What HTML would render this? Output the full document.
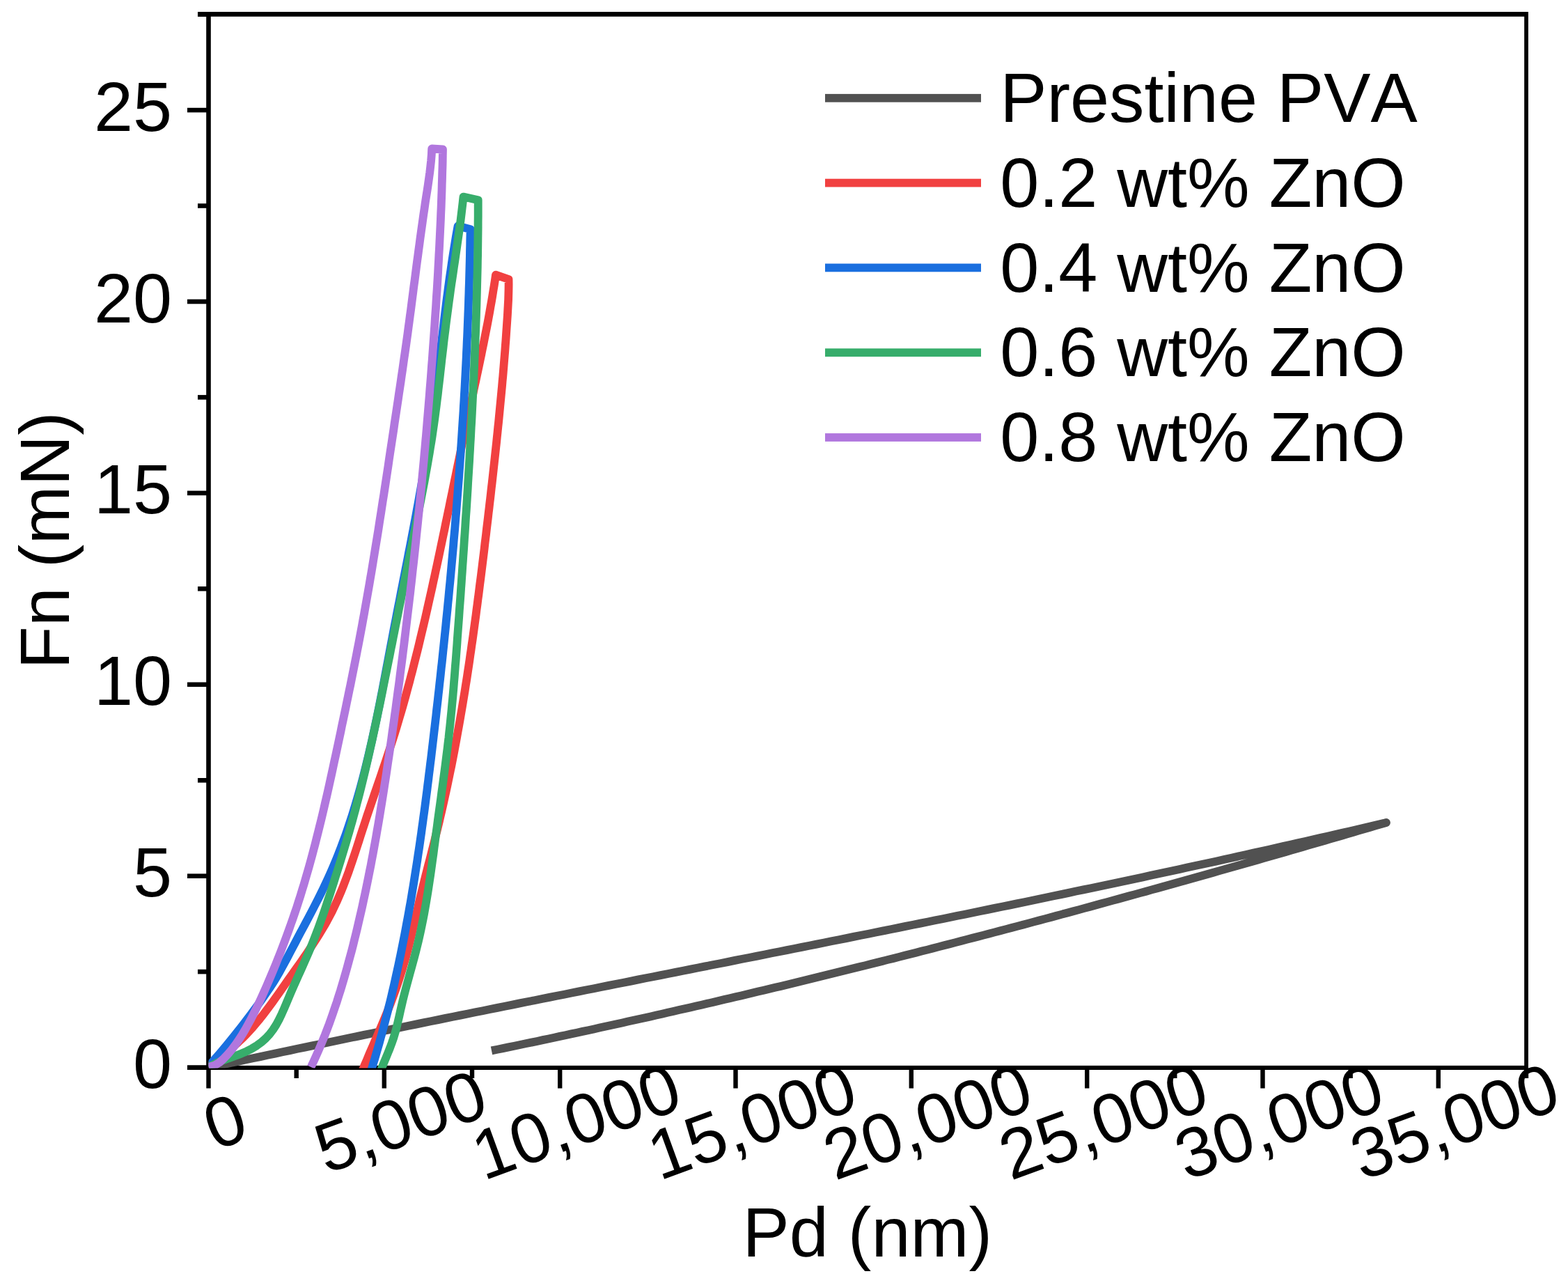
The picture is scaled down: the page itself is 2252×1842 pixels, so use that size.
<!DOCTYPE html>
<html><head><meta charset="utf-8"><title>Fn vs Pd</title>
<style>html,body{margin:0;padding:0;background:#fff;overflow:hidden}svg{display:block}</style>
</head><body>
<svg width="2252" height="1842" viewBox="0 0 2252 1842">
<rect x="0" y="0" width="2252" height="1842" fill="#fff"/>
<g fill="#000">
<rect x="296.2" y="17" width="6.6" height="1519"/>
<rect x="2189.2" y="17" width="5.8" height="1519"/>
<rect x="284" y="17" width="1911" height="6.8"/>
<rect x="269" y="1529.9" width="1926" height="6.1"/>
<rect x="269" y="1529.3" width="28" height="6.6"/>
<rect x="284" y="1391.8" width="13" height="6.6"/>
<rect x="269" y="1254.4" width="28" height="6.6"/>
<rect x="284" y="1117.0" width="13" height="6.6"/>
<rect x="269" y="979.5" width="28" height="6.6"/>
<rect x="284" y="842.0" width="13" height="6.6"/>
<rect x="269" y="704.6" width="28" height="6.6"/>
<rect x="284" y="567.1" width="13" height="6.6"/>
<rect x="269" y="429.7" width="28" height="6.6"/>
<rect x="284" y="292.2" width="13" height="6.6"/>
<rect x="269" y="154.8" width="28" height="6.6"/>
<rect x="284" y="17.4" width="13" height="6.6"/>
<rect x="296.3" y="1535" width="6.4" height="27.5"/>
<rect x="422.5" y="1535" width="6.4" height="13"/>
<rect x="548.6" y="1535" width="6.4" height="27.5"/>
<rect x="674.8" y="1535" width="6.4" height="13"/>
<rect x="801.0" y="1535" width="6.4" height="27.5"/>
<rect x="927.1" y="1535" width="6.4" height="13"/>
<rect x="1053.3" y="1535" width="6.4" height="27.5"/>
<rect x="1179.5" y="1535" width="6.4" height="13"/>
<rect x="1305.6" y="1535" width="6.4" height="27.5"/>
<rect x="1431.8" y="1535" width="6.4" height="13"/>
<rect x="1558.0" y="1535" width="6.4" height="27.5"/>
<rect x="1684.1" y="1535" width="6.4" height="13"/>
<rect x="1810.3" y="1535" width="6.4" height="27.5"/>
<rect x="1936.5" y="1535" width="6.4" height="13"/>
<rect x="2062.6" y="1535" width="6.4" height="27.5"/>
<rect x="2188.8" y="1535" width="6.4" height="13"/>
</g>
<clipPath id="pc"><rect x="299.5" y="20.4" width="1892.5" height="1513.0"/></clipPath>
<g clip-path="url(#pc)" fill="none" stroke-width="11.8" stroke-linejoin="round" stroke-linecap="butt">
<path d="M299.5,1533.0L310.1,1530.7L320.7,1528.4L331.4,1526.1L342.0,1523.9L352.6,1521.6L363.3,1519.3L373.9,1517.1L384.5,1514.8L395.1,1512.6L405.8,1510.3L416.4,1508.1L427.0,1505.8L437.7,1503.6L448.3,1501.4L459.0,1499.2L469.6,1496.9L480.2,1494.7L490.9,1492.5L501.5,1490.3L512.2,1488.1L522.8,1485.9L533.4,1483.7L544.1,1481.5L554.7,1479.3L565.4,1477.1L576.0,1475.0L586.7,1472.8L597.3,1470.6L608.0,1468.4L618.6,1466.3L629.3,1464.1L639.9,1461.9L650.6,1459.8L661.2,1457.6L671.9,1455.5L682.5,1453.3L693.2,1451.2L703.8,1449.0L714.5,1446.9L725.1,1444.7L735.8,1442.6L746.4,1440.4L757.1,1438.3L767.7,1436.2L778.4,1434.0L789.1,1431.9L799.7,1429.8L810.4,1427.7L821.0,1425.5L831.7,1423.4L842.3,1421.3L853.0,1419.2L863.7,1417.0L874.3,1414.9L885.0,1412.8L895.6,1410.7L906.3,1408.6L916.9,1406.4L927.6,1404.3L938.3,1402.2L948.9,1400.1L959.6,1398.0L970.2,1395.9L980.9,1393.7L991.6,1391.6L1002.2,1389.5L1012.9,1387.4L1023.5,1385.3L1034.2,1383.2L1044.9,1381.1L1055.5,1378.9L1066.2,1376.8L1076.8,1374.7L1087.5,1372.6L1098.2,1370.5L1108.8,1368.3L1119.5,1366.2L1130.1,1364.1L1140.8,1362.0L1151.4,1359.9L1162.1,1357.7L1172.8,1355.6L1183.4,1353.5L1194.1,1351.3L1204.7,1349.2L1215.4,1347.1L1226.0,1344.9L1236.7,1342.8L1247.3,1340.7L1258.0,1338.5L1268.6,1336.4L1279.3,1334.2L1289.9,1332.1L1300.6,1329.9L1311.3,1327.8L1321.9,1325.6L1332.6,1323.5L1343.2,1321.3L1353.8,1319.2L1364.5,1317.0L1375.1,1314.8L1385.8,1312.7L1396.4,1310.5L1407.1,1308.3L1417.7,1306.1L1428.4,1303.9L1439.0,1301.7L1449.7,1299.6L1460.3,1297.4L1470.9,1295.2L1481.6,1293.0L1492.2,1290.7L1502.9,1288.5L1513.5,1286.3L1524.1,1284.1L1534.8,1281.9L1545.4,1279.6L1556.0,1277.4L1566.7,1275.2L1577.3,1272.9L1587.9,1270.7L1598.6,1268.4L1609.2,1266.2L1619.8,1263.9L1630.4,1261.7L1641.1,1259.4L1651.7,1257.1L1662.3,1254.8L1672.9,1252.5L1683.6,1250.2L1694.2,1247.9L1704.8,1245.6L1715.4,1243.3L1726.0,1241.0L1736.7,1238.7L1747.3,1236.4L1757.9,1234.0L1768.5,1231.7L1779.1,1229.3L1789.7,1227.0L1800.3,1224.6L1810.9,1222.3L1821.5,1219.9L1832.1,1217.5L1842.7,1215.1L1853.3,1212.7L1863.9,1210.3L1874.5,1207.9L1885.1,1205.5L1895.7,1203.1L1906.3,1200.7L1916.9,1198.2L1927.5,1195.8L1938.1,1193.4L1948.7,1190.9L1959.3,1188.4L1969.8,1186.0L1980.4,1183.5L1991.0,1181.0L1991.0,1181.0L1983.0,1183.4L1975.0,1185.7L1967.0,1188.1L1959.0,1190.4L1951.0,1192.7L1943.0,1195.1L1935.0,1197.4L1927.0,1199.8L1919.0,1202.1L1910.9,1204.4L1902.9,1206.8L1894.9,1209.1L1886.9,1211.4L1878.9,1213.7L1870.9,1216.0L1862.9,1218.4L1854.9,1220.7L1846.8,1223.0L1838.8,1225.3L1830.8,1227.6L1822.8,1229.9L1814.8,1232.2L1806.7,1234.5L1798.7,1236.8L1790.7,1239.0L1782.7,1241.3L1774.6,1243.6L1766.6,1245.9L1758.6,1248.2L1750.6,1250.4L1742.5,1252.7L1734.5,1255.0L1726.5,1257.2L1718.4,1259.5L1710.4,1261.7L1702.4,1264.0L1694.3,1266.2L1686.3,1268.5L1678.3,1270.7L1670.2,1273.0L1662.2,1275.2L1654.2,1277.4L1646.1,1279.7L1638.1,1281.9L1630.0,1284.1L1622.0,1286.3L1613.9,1288.5L1605.9,1290.7L1597.9,1292.9L1589.8,1295.1L1581.8,1297.3L1573.7,1299.5L1565.7,1301.7L1557.6,1303.9L1549.6,1306.1L1541.5,1308.3L1533.4,1310.5L1525.4,1312.6L1517.3,1314.8L1509.3,1317.0L1501.2,1319.1L1493.2,1321.3L1485.1,1323.4L1477.0,1325.6L1469.0,1327.7L1460.9,1329.9L1452.8,1332.0L1444.8,1334.1L1436.7,1336.3L1428.6,1338.4L1420.6,1340.5L1412.5,1342.6L1404.4,1344.7L1396.4,1346.8L1388.3,1348.9L1380.2,1351.0L1372.1,1353.1L1364.1,1355.2L1356.0,1357.3L1347.9,1359.4L1339.8,1361.5L1331.8,1363.6L1323.7,1365.6L1315.6,1367.7L1307.5,1369.7L1299.4,1371.8L1291.3,1373.9L1283.2,1375.9L1275.2,1377.9L1267.1,1380.0L1259.0,1382.0L1250.9,1384.0L1242.8,1386.1L1234.7,1388.1L1226.6,1390.1L1218.5,1392.1L1210.4,1394.1L1202.3,1396.1L1194.2,1398.1L1186.1,1400.1L1178.0,1402.1L1169.9,1404.1L1161.8,1406.1L1153.7,1408.0L1145.6,1410.0L1137.5,1412.0L1129.4,1413.9L1121.3,1415.9L1113.1,1417.8L1105.0,1419.8L1096.9,1421.7L1088.8,1423.6L1080.7,1425.6L1072.6,1427.5L1064.5,1429.4L1056.3,1431.3L1048.2,1433.2L1040.1,1435.1L1032.0,1437.0L1023.8,1438.9L1015.7,1440.8L1007.6,1442.7L999.5,1444.5L991.3,1446.4L983.2,1448.3L975.1,1450.1L966.9,1452.0L958.8,1453.8L950.7,1455.7L942.5,1457.5L934.4,1459.4L926.3,1461.2L918.1,1463.0L910.0,1464.8L901.8,1466.6L893.7,1468.4L885.5,1470.2L877.4,1472.0L869.2,1473.8L861.1,1475.6L852.9,1477.4L844.8,1479.2L836.6,1480.9L828.5,1482.7L820.3,1484.4L812.2,1486.2L804.0,1487.9L795.8,1489.7L787.7,1491.4L779.5,1493.1L771.4,1494.9L763.2,1496.6L755.0,1498.3L746.9,1500.0L738.7,1501.7L730.5,1503.4L722.3,1505.1L714.2,1506.7L706.0,1508.4" stroke="#515151"/>
<path d="M299.5,1531.0L305.8,1526.4L312.0,1521.7L318.1,1517.0L324.1,1512.1L330.1,1507.1L335.9,1502.0L341.7,1496.8L347.3,1491.5L352.7,1486.0L358.0,1480.4L363.2,1474.7L368.2,1468.8L373.1,1462.9L377.9,1456.8L382.6,1450.7L387.2,1444.5L391.8,1438.2L396.3,1431.9L400.8,1425.6L405.3,1419.2L409.7,1412.9L414.2,1406.5L418.7,1400.1L423.2,1393.8L427.7,1387.4L432.2,1381.1L436.6,1374.7L441.0,1368.3L445.3,1361.8L449.6,1355.3L453.8,1348.8L457.9,1342.3L461.9,1335.7L465.9,1329.0L469.7,1322.3L473.3,1315.5L476.9,1308.7L480.2,1301.8L483.5,1294.8L486.6,1287.7L489.6,1280.6L492.5,1273.5L495.3,1266.2L498.0,1259.0L500.7,1251.7L503.2,1244.4L505.7,1237.0L508.2,1229.6L510.7,1222.2L513.1,1214.8L515.5,1207.4L517.8,1200.0L520.2,1192.6L522.7,1185.2L525.1,1177.8L527.5,1170.4L530.0,1163.1L532.5,1155.7L535.0,1148.4L537.5,1141.0L540.0,1133.7L542.5,1126.4L545.1,1119.1L547.6,1111.7L550.0,1104.4L552.5,1097.1L555.0,1089.7L557.4,1082.4L559.8,1075.0L562.2,1067.7L564.6,1060.3L566.9,1052.9L569.2,1045.5L571.4,1038.1L573.6,1030.6L575.8,1023.2L578.0,1015.8L580.1,1008.3L582.2,1000.8L584.2,993.4L586.2,985.9L588.3,978.4L590.2,970.9L592.2,963.4L594.1,955.9L596.0,948.3L597.9,940.8L599.8,933.3L601.6,925.8L603.4,918.2L605.2,910.7L607.0,903.1L608.8,895.6L610.6,888.0L612.3,880.5L614.0,872.9L615.7,865.3L617.4,857.8L619.1,850.2L620.8,842.6L622.4,835.1L624.1,827.5L625.7,819.9L627.4,812.3L629.0,804.8L630.6,797.2L632.2,789.6L633.8,782.0L635.4,774.4L637.0,766.8L638.6,759.3L640.1,751.7L641.7,744.1L643.3,736.5L644.9,728.9L646.4,721.3L648.0,713.7L649.6,706.1L651.1,698.6L652.7,691.0L654.3,683.4L655.8,675.8L657.4,668.2L659.0,660.6L660.6,653.0L662.1,645.4L663.7,637.8L665.3,630.3L666.9,622.7L668.5,615.1L670.2,607.5L671.8,599.9L673.4,592.4L675.1,584.8L676.7,577.2L678.4,569.6L680.0,562.1L681.6,554.5L683.3,546.9L684.9,539.3L686.5,531.7L688.1,524.2L689.7,516.6L691.3,509.0L692.8,501.4L694.4,493.8L695.9,486.2L697.4,478.6L698.9,471.0L700.4,463.4L701.8,455.8L703.2,448.1L704.5,440.5L705.9,432.9L707.2,425.2L708.4,417.6L709.7,409.9L710.9,402.3L712.0,394.6L730.5,401.0L730.6,408.3L730.5,415.6L730.3,423.0L730.1,430.3L729.7,437.6L729.3,444.9L728.9,452.3L728.4,459.6L727.9,466.9L727.4,474.2L726.9,481.5L726.4,488.9L725.8,496.2L725.3,503.5L724.7,510.8L724.1,518.1L723.5,525.4L722.9,532.7L722.3,540.0L721.6,547.3L721.0,554.6L720.3,561.9L719.6,569.2L718.9,576.5L718.2,583.8L717.5,591.1L716.8,598.4L716.1,605.7L715.3,613.0L714.6,620.3L713.8,627.6L713.1,634.9L712.3,642.2L711.5,649.5L710.7,656.8L709.9,664.1L709.1,671.3L708.3,678.6L707.5,685.9L706.7,693.2L705.8,700.5L705.0,707.8L704.2,715.1L703.3,722.4L702.5,729.6L701.6,736.9L700.8,744.2L699.9,751.5L699.0,758.8L698.2,766.1L697.3,773.4L696.4,780.6L695.6,787.9L694.7,795.2L693.8,802.5L692.9,809.8L692.0,817.1L691.1,824.4L690.2,831.6L689.2,838.9L688.3,846.2L687.4,853.5L686.4,860.8L685.5,868.0L684.5,875.3L683.6,882.6L682.6,889.9L681.6,897.1L680.6,904.4L679.6,911.7L678.6,918.9L677.5,926.2L676.5,933.5L675.4,940.7L674.4,948.0L673.3,955.3L672.2,962.5L671.1,969.8L670.0,977.0L668.8,984.3L667.7,991.5L666.5,998.7L665.3,1006.0L664.1,1013.2L662.9,1020.4L661.6,1027.7L660.4,1034.9L659.1,1042.1L657.8,1049.3L656.5,1056.5L655.2,1063.8L653.8,1071.0L652.5,1078.2L651.1,1085.4L649.7,1092.6L648.3,1099.8L646.8,1106.9L645.3,1114.1L643.8,1121.3L642.3,1128.5L640.8,1135.6L639.2,1142.8L637.6,1150.0L636.0,1157.1L634.4,1164.3L632.7,1171.4L631.1,1178.5L629.3,1185.7L627.6,1192.8L625.8,1199.9L624.1,1207.0L622.3,1214.2L620.5,1221.3L618.7,1228.4L616.9,1235.5L615.0,1242.6L613.2,1249.7L611.4,1256.8L609.6,1263.9L607.8,1271.1L606.1,1278.2L604.3,1285.3L602.6,1292.4L600.9,1299.6L599.3,1306.7L597.6,1313.9L596.0,1321.0L594.4,1328.2L592.7,1335.3L591.1,1342.5L589.3,1349.6L587.6,1356.7L585.7,1363.8L583.8,1370.9L581.9,1377.9L579.8,1384.9L577.7,1392.0L575.5,1399.0L573.3,1405.9L571.0,1412.9L568.6,1419.8L566.1,1426.7L563.6,1433.6L561.0,1440.5L558.3,1447.3L555.6,1454.1L552.8,1460.9L550.0,1467.7L547.1,1474.5L544.3,1481.2L541.4,1488.0L538.4,1494.7L535.5,1501.5L532.6,1508.2L529.7,1514.9L526.9,1521.7L524.0,1528.4L521.2,1535.2L518.5,1542.0" stroke="#F14040"/>
<path d="M299.5,1531.0L304.8,1525.0L310.0,1518.9L315.3,1512.8L320.4,1506.7L325.6,1500.5L330.7,1494.3L335.8,1488.0L340.8,1481.7L345.8,1475.4L350.7,1469.0L355.6,1462.6L360.4,1456.2L365.2,1449.7L370.0,1443.2L374.7,1436.7L379.3,1430.1L383.9,1423.5L388.4,1416.9L392.7,1410.2L396.9,1403.4L400.9,1396.5L404.8,1389.5L408.6,1382.5L412.4,1375.4L416.1,1368.3L419.8,1361.2L423.6,1354.1L427.3,1347.0L431.1,1339.8L434.9,1332.7L438.7,1325.6L442.5,1318.4L446.3,1311.3L450.0,1304.1L453.7,1296.9L457.4,1289.7L461.0,1282.5L464.5,1275.2L468.0,1267.9L471.4,1260.6L474.7,1253.3L477.9,1245.9L481.0,1238.5L484.1,1231.1L487.0,1223.6L489.9,1216.2L492.7,1208.6L495.5,1201.1L498.1,1193.6L500.7,1186.0L503.2,1178.4L505.7,1170.8L508.1,1163.1L510.4,1155.5L512.7,1147.8L514.9,1140.1L517.1,1132.3L519.2,1124.6L521.2,1116.9L523.2,1109.1L525.2,1101.3L527.1,1093.5L529.0,1085.7L530.8,1077.8L532.6,1070.0L534.4,1062.2L536.1,1054.3L537.8,1046.4L539.5,1038.5L541.2,1030.7L542.8,1022.8L544.4,1014.9L546.0,1006.9L547.5,999.0L549.1,991.1L550.6,983.2L552.1,975.3L553.6,967.3L555.1,959.4L556.6,951.5L558.1,943.5L559.6,935.6L561.1,927.7L562.6,919.8L564.1,911.8L565.6,903.9L567.1,896.0L568.7,888.1L570.2,880.2L571.7,872.3L573.3,864.4L574.8,856.5L576.3,848.6L577.9,840.7L579.4,832.8L581.0,824.9L582.5,817.0L584.1,809.1L585.6,801.3L587.1,793.4L588.7,785.5L590.2,777.6L591.7,769.7L593.2,761.8L594.7,753.9L596.2,746.0L597.7,738.2L599.1,730.3L600.6,722.4L602.0,714.5L603.4,706.6L604.8,698.7L606.2,690.8L607.6,682.9L608.9,674.9L610.3,667.0L611.6,659.1L612.8,651.2L614.1,643.3L615.3,635.3L616.6,627.4L617.7,619.4L618.9,611.5L620.0,603.5L621.2,595.6L622.2,587.6L623.3,579.6L624.3,571.7L625.4,563.7L626.4,555.7L627.4,547.7L628.3,539.7L629.3,531.7L630.3,523.7L631.2,515.7L632.2,507.7L633.1,499.7L634.1,491.7L635.0,483.8L636.0,475.8L637.0,467.8L637.9,459.8L638.9,451.8L639.9,443.8L640.9,435.8L641.9,427.8L643.0,419.8L644.0,411.9L645.1,403.9L646.2,395.9L647.4,388.0L648.5,380.0L649.7,372.0L650.9,364.1L652.2,356.2L653.5,348.2L654.8,340.3L656.2,332.4L657.6,324.5L675.6,329.1L675.5,336.8L675.3,344.5L675.2,352.2L675.0,359.9L674.9,367.6L674.7,375.3L674.5,383.0L674.3,390.7L674.1,398.4L673.9,406.1L673.6,413.8L673.4,421.5L673.1,429.2L672.9,436.9L672.6,444.6L672.3,452.3L672.0,460.0L671.7,467.7L671.4,475.4L671.1,483.1L670.7,490.7L670.4,498.4L670.0,506.1L669.7,513.8L669.3,521.5L668.9,529.2L668.5,536.9L668.1,544.6L667.7,552.3L667.3,559.9L666.8,567.6L666.4,575.3L665.9,583.0L665.5,590.7L665.0,598.4L664.5,606.0L664.0,613.7L663.5,621.4L663.0,629.1L662.5,636.8L662.0,644.5L661.5,652.1L660.9,659.8L660.4,667.5L659.8,675.2L659.3,682.9L658.7,690.5L658.1,698.2L657.5,705.9L656.9,713.6L656.3,721.2L655.7,728.9L655.1,736.6L654.4,744.3L653.8,751.9L653.2,759.6L652.5,767.3L651.8,774.9L651.2,782.6L650.5,790.3L649.8,798.0L649.1,805.6L648.4,813.3L647.7,821.0L647.0,828.6L646.3,836.3L645.5,844.0L644.8,851.6L644.1,859.3L643.3,867.0L642.6,874.6L641.8,882.3L641.0,890.0L640.3,897.6L639.5,905.3L638.7,913.0L637.9,920.6L637.1,928.3L636.3,935.9L635.5,943.6L634.7,951.3L633.8,958.9L633.0,966.6L632.2,974.2L631.3,981.9L630.5,989.6L629.6,997.2L628.8,1004.9L627.9,1012.5L627.0,1020.2L626.2,1027.8L625.3,1035.5L624.4,1043.2L623.5,1050.8L622.6,1058.5L621.7,1066.1L620.8,1073.8L619.9,1081.4L619.0,1089.1L618.0,1096.7L617.1,1104.4L616.1,1112.0L615.2,1119.7L614.2,1127.3L613.3,1135.0L612.3,1142.6L611.3,1150.3L610.3,1157.9L609.3,1165.5L608.2,1173.2L607.2,1180.8L606.1,1188.4L605.1,1196.1L604.0,1203.7L602.9,1211.3L601.8,1218.9L600.6,1226.5L599.5,1234.2L598.3,1241.8L597.1,1249.4L595.9,1257.0L594.7,1264.6L593.5,1272.2L592.2,1279.8L591.0,1287.3L589.7,1294.9L588.3,1302.5L587.0,1310.1L585.6,1317.7L584.2,1325.2L582.8,1332.8L581.4,1340.3L579.9,1347.9L578.4,1355.4L576.9,1363.0L575.4,1370.5L573.8,1378.0L572.2,1385.6L570.6,1393.1L568.9,1400.6L567.3,1408.1L565.6,1415.6L563.8,1423.1L562.1,1430.6L560.3,1438.1L558.4,1445.5L556.6,1453.0L554.7,1460.4L552.7,1467.9L550.8,1475.3L548.8,1482.8L546.7,1490.2L544.7,1497.6L542.6,1505.0L540.4,1512.5L538.3,1519.9L536.0,1527.2L533.8,1534.6L531.5,1542.0" stroke="#1A6FDF"/>
<path d="M299.5,1532.0L306.8,1528.1L314.4,1524.7L322.4,1521.6L330.4,1518.7L338.5,1515.8L346.5,1512.7L354.3,1509.3L361.8,1505.4L368.9,1501.1L375.5,1496.2L381.7,1490.8L387.3,1484.8L392.2,1478.3L396.7,1471.3L400.7,1463.9L404.4,1456.2L407.9,1448.4L411.3,1440.4L414.6,1432.4L417.9,1424.6L421.3,1416.8L424.8,1409.0L428.2,1401.3L431.7,1393.7L435.1,1386.0L438.5,1378.4L441.8,1370.8L445.1,1363.1L448.3,1355.3L451.4,1347.5L454.4,1339.7L457.4,1331.8L460.3,1323.8L463.1,1315.9L465.9,1307.9L468.6,1299.9L471.2,1291.8L473.9,1283.8L476.5,1275.7L479.1,1267.6L481.6,1259.6L484.2,1251.5L486.7,1243.4L489.2,1235.4L491.7,1227.3L494.1,1219.2L496.5,1211.2L498.9,1203.1L501.3,1195.0L503.6,1186.9L505.9,1178.8L508.1,1170.7L510.3,1162.6L512.4,1154.4L514.6,1146.3L516.7,1138.1L518.7,1130.0L520.7,1121.8L522.7,1113.6L524.7,1105.4L526.6,1097.2L528.5,1089.0L530.4,1080.7L532.2,1072.5L534.1,1064.3L535.9,1056.0L537.7,1047.8L539.5,1039.5L541.2,1031.3L542.9,1023.0L544.7,1014.7L546.4,1006.5L548.1,998.2L549.8,989.9L551.4,981.6L553.1,973.3L554.8,965.1L556.4,956.8L558.1,948.5L559.8,940.2L561.4,931.9L563.1,923.7L564.7,915.4L566.4,907.1L568.0,898.8L569.7,890.6L571.4,882.3L573.0,874.0L574.7,865.8L576.4,857.5L578.1,849.3L579.7,841.0L581.4,832.7L583.1,824.5L584.8,816.2L586.4,808.0L588.1,799.7L589.8,791.4L591.5,783.2L593.1,774.9L594.8,766.6L596.5,758.4L598.1,750.1L599.8,741.8L601.4,733.5L603.0,725.2L604.6,717.0L606.2,708.7L607.8,700.4L609.4,692.1L610.9,683.8L612.4,675.5L613.9,667.2L615.3,658.9L616.8,650.5L618.1,642.2L619.5,633.9L620.8,625.5L622.0,617.2L623.2,608.9L624.4,600.5L625.5,592.1L626.6,583.8L627.6,575.4L628.7,567.0L629.6,558.7L630.6,550.3L631.6,541.9L632.5,533.5L633.5,525.1L634.4,516.7L635.4,508.4L636.4,500.0L637.3,491.6L638.3,483.2L639.4,474.9L640.4,466.5L641.5,458.1L642.6,449.7L643.7,441.4L644.8,433.0L646.0,424.7L647.1,416.3L648.3,408.0L649.6,399.6L650.8,391.3L652.0,382.9L653.3,374.6L654.5,366.2L655.7,357.9L656.9,349.5L658.1,341.2L659.3,332.8L660.5,324.5L661.6,316.1L662.6,307.7L663.6,299.4L664.6,291.0L665.5,282.6L686.7,287.2L686.7,295.2L686.7,303.1L686.7,311.1L686.6,319.1L686.6,327.1L686.5,335.0L686.4,343.0L686.3,351.0L686.2,359.0L686.1,366.9L685.9,374.9L685.8,382.9L685.6,390.9L685.4,398.8L685.2,406.8L685.0,414.8L684.8,422.7L684.6,430.7L684.4,438.7L684.1,446.7L683.9,454.6L683.6,462.6L683.3,470.6L683.0,478.5L682.7,486.5L682.4,494.5L682.1,502.5L681.8,510.4L681.4,518.4L681.1,526.4L680.7,534.3L680.4,542.3L680.0,550.3L679.6,558.2L679.2,566.2L678.8,574.2L678.4,582.1L678.0,590.1L677.6,598.1L677.2,606.0L676.7,614.0L676.3,622.0L675.9,629.9L675.4,637.9L675.0,645.8L674.5,653.8L674.1,661.8L673.6,669.7L673.1,677.7L672.6,685.6L672.1,693.6L671.7,701.6L671.2,709.5L670.7,717.5L670.2,725.4L669.7,733.4L669.1,741.3L668.6,749.3L668.1,757.3L667.6,765.2L667.0,773.2L666.5,781.1L666.0,789.1L665.4,797.0L664.9,805.0L664.3,812.9L663.8,820.9L663.2,828.9L662.7,836.8L662.1,844.8L661.6,852.7L661.0,860.7L660.4,868.6L659.8,876.6L659.3,884.5L658.7,892.5L658.1,900.4L657.5,908.4L656.9,916.4L656.4,924.3L655.8,932.3L655.2,940.2L654.6,948.2L653.9,956.1L653.3,964.1L652.7,972.0L652.0,980.0L651.4,987.9L650.7,995.9L650.0,1003.8L649.2,1011.8L648.5,1019.7L647.7,1027.6L646.9,1035.6L646.1,1043.5L645.2,1051.4L644.4,1059.4L643.4,1067.3L642.5,1075.2L641.5,1083.1L640.5,1091.0L639.5,1098.9L638.5,1106.8L637.4,1114.7L636.4,1122.6L635.3,1130.5L634.2,1138.4L633.2,1146.3L632.1,1154.2L631.0,1162.1L629.9,1170.0L628.8,1178.0L627.8,1185.9L626.7,1193.8L625.6,1201.7L624.6,1209.6L623.5,1217.5L622.5,1225.4L621.4,1233.3L620.3,1241.2L619.2,1249.1L618.1,1257.0L616.9,1264.9L615.7,1272.8L614.5,1280.7L613.2,1288.5L611.9,1296.4L610.5,1304.2L609.1,1312.1L607.6,1319.9L606.0,1327.7L604.4,1335.5L602.7,1343.3L600.9,1351.1L599.0,1358.8L597.1,1366.5L595.1,1374.2L593.0,1382.0L590.9,1389.7L588.8,1397.3L586.7,1405.0L584.6,1412.7L582.5,1420.5L580.5,1428.2L578.6,1435.9L576.8,1443.7L575.0,1451.5L573.3,1459.3L571.5,1467.0L569.7,1474.7L567.6,1482.4L565.3,1490.0L562.7,1497.5L559.9,1505.0L556.9,1512.4L553.9,1519.7L550.8,1527.1L547.8,1534.5L545.0,1542.0" stroke="#37AD6B"/>
<path d="M299.5,1532.0L307.8,1529.8L315.0,1525.5L321.3,1519.8L327.2,1513.6L332.8,1507.0L338.0,1500.1L343.0,1493.0L347.7,1485.6L352.2,1478.1L356.4,1470.5L360.6,1462.8L364.5,1455.0L368.4,1447.3L372.1,1439.5L375.7,1431.7L379.3,1423.8L382.7,1416.0L386.1,1408.1L389.5,1400.1L392.8,1392.2L396.1,1384.2L399.3,1376.1L402.5,1368.1L405.6,1360.0L408.7,1351.9L411.7,1343.8L414.7,1335.6L417.6,1327.4L420.5,1319.2L423.3,1311.0L426.1,1302.8L428.7,1294.6L431.4,1286.3L433.9,1278.0L436.5,1269.7L438.9,1261.4L441.3,1253.1L443.7,1244.8L446.0,1236.5L448.3,1228.1L450.5,1219.8L452.7,1211.4L454.8,1203.0L456.9,1194.7L459.0,1186.3L461.1,1177.9L463.1,1169.5L465.1,1161.0L467.0,1152.6L469.0,1144.2L470.9,1135.7L472.8,1127.3L474.6,1118.9L476.5,1110.4L478.3,1102.0L480.1,1093.5L482.0,1085.0L483.8,1076.6L485.6,1068.1L487.4,1059.6L489.2,1051.2L490.9,1042.7L492.7,1034.2L494.5,1025.8L496.3,1017.3L498.0,1008.8L499.8,1000.3L501.5,991.8L503.3,983.4L505.0,974.9L506.7,966.4L508.4,957.9L510.1,949.4L511.8,940.9L513.4,932.4L515.1,923.9L516.7,915.4L518.3,906.9L519.9,898.4L521.4,889.9L523.0,881.4L524.5,872.8L526.0,864.3L527.5,855.8L529.0,847.3L530.5,838.8L531.9,830.2L533.4,821.7L534.8,813.2L536.2,804.6L537.6,796.1L539.0,787.5L540.4,779.0L541.8,770.5L543.2,761.9L544.5,753.4L545.8,744.8L547.2,736.3L548.5,727.7L549.8,719.2L551.2,710.6L552.5,702.0L553.8,693.5L555.1,684.9L556.4,676.4L557.7,667.8L558.9,659.3L560.2,650.7L561.5,642.1L562.8,633.6L564.1,625.0L565.4,616.5L566.6,607.9L567.9,599.4L569.2,590.8L570.5,582.2L571.8,573.7L573.0,565.1L574.3,556.6L575.6,548.0L576.8,539.4L578.1,530.9L579.3,522.3L580.5,513.7L581.8,505.2L583.0,496.6L584.2,488.0L585.4,479.5L586.5,470.9L587.7,462.3L588.8,453.7L590.0,445.2L591.1,436.6L592.2,428.0L593.3,419.4L594.4,410.8L595.6,402.3L596.7,393.7L597.8,385.1L598.9,376.5L600.1,367.9L601.2,359.4L602.4,350.8L603.5,342.2L604.7,333.6L605.9,325.1L607.1,316.5L608.3,307.9L609.6,299.4L610.8,290.8L612.1,282.3L613.5,273.7L614.8,265.1L616.0,256.6L617.2,248.0L618.2,239.4L619.1,230.8L619.8,222.2L620.2,213.5L636.0,214.5L635.8,222.9L635.7,231.3L635.5,239.7L635.2,248.1L635.0,256.5L634.7,264.9L634.5,273.3L634.2,281.7L633.9,290.1L633.6,298.5L633.2,306.9L632.9,315.3L632.5,323.7L632.1,332.1L631.7,340.5L631.3,348.9L630.9,357.3L630.4,365.7L630.0,374.1L629.5,382.5L629.1,390.9L628.6,399.3L628.1,407.7L627.6,416.1L627.0,424.5L626.5,432.9L626.0,441.3L625.4,449.7L624.8,458.1L624.3,466.5L623.7,474.9L623.1,483.3L622.5,491.7L621.9,500.0L621.3,508.4L620.7,516.8L620.0,525.2L619.4,533.6L618.8,542.0L618.1,550.4L617.4,558.7L616.8,567.1L616.1,575.5L615.4,583.9L614.7,592.2L614.0,600.6L613.3,609.0L612.6,617.4L611.9,625.8L611.1,634.1L610.4,642.5L609.6,650.9L608.9,659.2L608.1,667.6L607.3,676.0L606.5,684.3L605.8,692.7L605.0,701.1L604.1,709.4L603.3,717.8L602.5,726.2L601.7,734.5L600.8,742.9L600.0,751.2L599.1,759.6L598.2,768.0L597.4,776.3L596.5,784.7L595.6,793.0L594.7,801.4L593.8,809.7L592.8,818.1L591.9,826.4L591.0,834.8L590.0,843.2L589.1,851.5L588.1,859.9L587.1,868.2L586.1,876.5L585.1,884.9L584.1,893.2L583.1,901.6L582.1,909.9L581.1,918.3L580.1,926.6L579.0,935.0L578.0,943.3L576.9,951.6L575.8,960.0L574.7,968.3L573.7,976.7L572.6,985.0L571.4,993.3L570.3,1001.7L569.2,1010.0L568.1,1018.4L566.9,1026.7L565.8,1035.0L564.6,1043.4L563.4,1051.7L562.3,1060.0L561.1,1068.4L559.9,1076.7L558.7,1085.0L557.4,1093.4L556.2,1101.7L555.0,1110.0L553.7,1118.3L552.4,1126.7L551.1,1135.0L549.8,1143.3L548.5,1151.6L547.1,1159.9L545.8,1168.2L544.4,1176.5L543.0,1184.8L541.5,1193.1L540.1,1201.4L538.6,1209.7L537.1,1217.9L535.6,1226.2L534.0,1234.5L532.5,1242.7L530.8,1251.0L529.2,1259.2L527.5,1267.5L525.8,1275.7L524.1,1283.9L522.3,1292.1L520.5,1300.4L518.7,1308.6L516.8,1316.7L514.9,1324.9L513.0,1333.1L511.0,1341.3L509.0,1349.4L507.0,1357.6L504.9,1365.7L502.7,1373.8L500.5,1381.9L498.3,1390.0L496.0,1398.1L493.7,1406.2L491.3,1414.2L488.9,1422.3L486.3,1430.3L483.8,1438.3L481.1,1446.2L478.4,1454.2L475.6,1462.1L472.8,1470.0L469.8,1477.9L466.8,1485.7L463.6,1493.5L460.4,1501.3L457.1,1509.0L453.7,1516.7L450.2,1524.4L446.6,1532.0" stroke="#B177DE"/>
</g>
<g font-family="'Liberation Sans', Arial, sans-serif" style="font-kerning:none" font-size="100.8" text-anchor="end" fill="#000">
<text x="247.0" y="1562.1">0</text>
<text x="247.0" y="1287.2">5</text>
<text x="247.0" y="1012.3">10</text>
<text x="247.0" y="737.4">15</text>
<text x="247.0" y="462.5">20</text>
<text x="247.0" y="187.6">25</text>
</g>
<g font-family="'Liberation Sans', Arial, sans-serif" style="font-kerning:none" font-size="100.8" text-anchor="middle" fill="#000">
<text transform="translate(322.5,1609.0) rotate(-20.0)" x="0" y="35.8">0</text>
<text transform="translate(574.8,1609.0) rotate(-20.0)" x="0" y="35.8">5,000</text>
<text transform="translate(827.2,1609.0) rotate(-20.0)" x="0" y="35.8">10,000</text>
<text transform="translate(1079.5,1609.0) rotate(-20.0)" x="0" y="35.8">15,000</text>
<text transform="translate(1331.8,1609.0) rotate(-20.0)" x="0" y="35.8">20,000</text>
<text transform="translate(1584.2,1609.0) rotate(-20.0)" x="0" y="35.8">25,000</text>
<text transform="translate(1836.5,1609.0) rotate(-20.0)" x="0" y="35.8">30,000</text>
<text transform="translate(2088.8,1609.0) rotate(-20.0)" x="0" y="35.8">35,000</text>
</g>
<text font-family="'Liberation Sans', Arial, sans-serif" style="font-kerning:none" font-size="100.8" text-anchor="middle" x="1245.8" y="1803.6">Pd (nm)</text>
<text font-family="'Liberation Sans', Arial, sans-serif" style="font-kerning:none" font-size="100.8" text-anchor="middle" transform="translate(99.0,776.0) rotate(-90)">Fn (mN)</text>
<rect x="1185.0" y="134.9" width="224.0" height="11.8" fill="#515151"/>
<text font-family="'Liberation Sans', Arial, sans-serif" style="font-kerning:none" font-size="100.8" x="1436.2" y="174.9">Prestine PVA</text>
<rect x="1185.0" y="256.7" width="224.0" height="11.8" fill="#F14040"/>
<text font-family="'Liberation Sans', Arial, sans-serif" style="font-kerning:none" font-size="100.8" x="1436.2" y="296.7">0.2 wt% ZnO</text>
<rect x="1185.0" y="378.5" width="224.0" height="11.8" fill="#1A6FDF"/>
<text font-family="'Liberation Sans', Arial, sans-serif" style="font-kerning:none" font-size="100.8" x="1436.2" y="418.5">0.4 wt% ZnO</text>
<rect x="1185.0" y="500.3" width="224.0" height="11.8" fill="#37AD6B"/>
<text font-family="'Liberation Sans', Arial, sans-serif" style="font-kerning:none" font-size="100.8" x="1436.2" y="540.3">0.6 wt% ZnO</text>
<rect x="1185.0" y="622.1" width="224.0" height="11.8" fill="#B177DE"/>
<text font-family="'Liberation Sans', Arial, sans-serif" style="font-kerning:none" font-size="100.8" x="1436.2" y="662.1">0.8 wt% ZnO</text>
</svg>
</body></html>
